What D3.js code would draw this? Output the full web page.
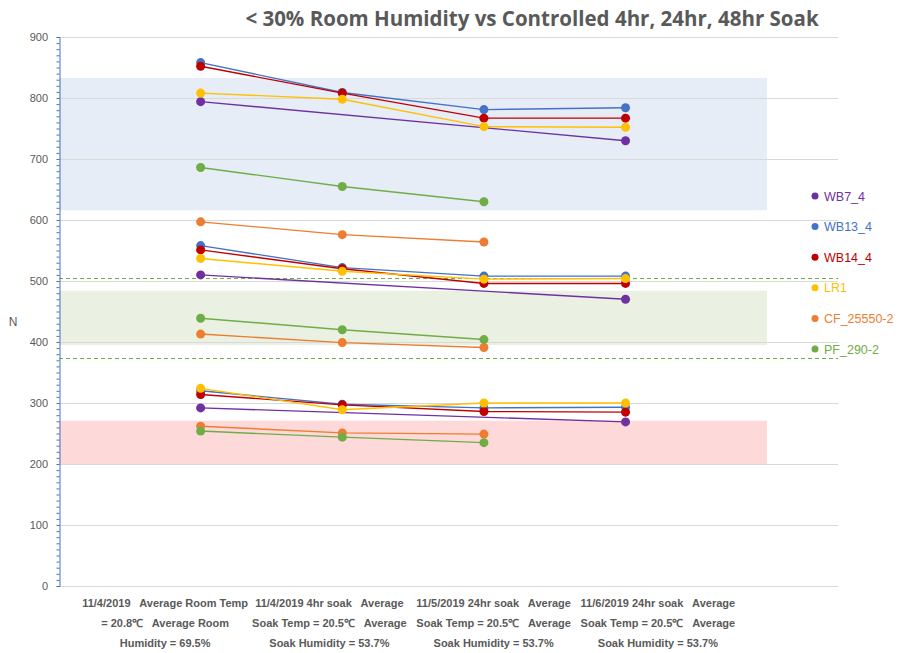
<!DOCTYPE html>
<html>
<head>
<meta charset="utf-8">
<script src="https://cdn.jsdelivr.net/npm/d3@7"></script>
<style>
  body { margin: 0; background: #fff; }
  svg { display: block; }
</style>
</head>
<body>
<svg id="chart" width="899" height="653"></svg>
<script>
// ---- data ----
const titleText = "< 30% Room Humidity vs Controlled 4hr, 24hr, 48hr Soak";

const categoryLabels = [
    ["11/4/2019   Average Room Temp", "= 20.8\u2103   Average Room", "Humidity = 69.5%"],
    ["11/4/2019 4hr soak   Average", "Soak Temp = 20.5\u2103   Average", "Soak Humidity = 53.7%"],
    ["11/5/2019 24hr soak   Average", "Soak Temp = 20.5\u2103   Average", "Soak Humidity = 53.7%"],
    ["11/6/2019 24hr soak   Average", "Soak Temp = 20.5\u2103   Average", "Soak Humidity = 53.7%"]
];

const yTicks = [0, 100, 200, 300, 400, 500, 600, 700, 800, 900];

// each material has three groups, one value per category (null = no reading)
const wb7_4 = [[794, null, null, 730], [510, null, null, 470], [292, null, null, 269]];
const wb13_4 = [[858, 809, 781, 784], [558, 522, 508, 508], [320, 298, 292, 293]];
const wb14_4 = [[852, 808, 767, 767], [551, 520, 496, 496], [314, 297, 286, 285]];
const lr1 = [[808, 798, 753, 752], [537, 516, 503, 504], [324, 289, 300, 300]];
const cf_25550_2 = [[597, 576, 564, null], [413, 399, 391, null], [262, 251, 249, null]];
const pf_290_2 = [[686, 655, 630, null], [439, 420, 404, null], [254, 244, 235, null]];

const seriesNames = ["WB7_4", "WB13_4", "WB14_4", "LR1", "CF_25550-2", "PF_290-2"];
const seriesColors = ["#7030a0", "#4472c4", "#c00000", "#ffc000", "#ed7d31", "#70ad47"];
const seriesGroups = [wb7_4, wb13_4, wb14_4, lr1, cf_25550_2, pf_290_2];

// shaded ranges and dashed limits
const blueBand = [616, 833];
const greenBand = [395, 484];
const redBand = [200, 271];
const greenLimits = [505, 373];

// ---- layout ----
const svg = d3.select("#chart");
const plotLeft = 59, plotRight = 838, plotTop = 37, plotBottom = 586;
const bandRight = 767;

const y = d3.scaleLinear().domain([0, 900]).range([plotBottom, plotTop]);
const x = d3.scaleLinear().domain([0, 5.5]).range([plotLeft, plotRight]);
const xLabel = d3.scaleBand().domain(d3.range(categoryLabels.length)).range([83, 740]);

const font = "'Liberation Sans', Arial, sans-serif";

// bands
function band(r, color) {
    svg.append("rect")
        .attr("x", plotLeft)
        .attr("y", y(r[1]))
        .attr("width", bandRight - plotLeft)
        .attr("height", y(r[0]) - y(r[1]))
        .attr("fill", color);
}
band(blueBand, "#e6edf7");
band(greenBand, "#eaf1e3");
band(redBand, "#fdd9d9");

// gridlines
svg.append("g")
    .selectAll("line")
    .data(yTicks)
    .join("line")
    .attr("x1", plotLeft)
    .attr("x2", plotRight)
    .attr("y1", d => Math.round(y(d)) + 0.5)
    .attr("y2", d => Math.round(y(d)) + 0.5)
    .attr("stroke", "#d9d9d9")
    .attr("stroke-width", 1);

// dashed limit lines
svg.append("g")
    .selectAll("line")
    .data(greenLimits)
    .join("line")
    .attr("x1", plotLeft)
    .attr("x2", plotRight)
    .attr("y1", d => Math.round(y(d)) + 0.5)
    .attr("y2", d => Math.round(y(d)) + 0.5)
    .attr("stroke", "#70ad47")
    .attr("stroke-width", 1)
    .attr("stroke-dasharray", "4,3");

// y axis with minor ticks
const yAxis = d3.axisLeft(y)
    .tickValues(d3.range(0, 901, 10))
    .tickSize(3)
    .tickFormat("");
const yAxisGroup = svg.append("g")
    .attr("transform", `translate(${plotLeft + 0.5},0)`)
    .call(yAxis);
yAxisGroup.select(".domain").attr("stroke", "#4472c4");
yAxisGroup.selectAll(".tick line").attr("stroke", "#4472c4");

svg.append("g")
    .selectAll("text")
    .data(yTicks)
    .join("text")
    .attr("x", 48)
    .attr("y", d => y(d) + 4)
    .attr("text-anchor", "end")
    .attr("font-family", font)
    .attr("font-size", 11)
    .attr("fill", "#595959")
    .text(d => d);

svg.append("text")
    .attr("x", 13)
    .attr("y", 326)
    .attr("text-anchor", "middle")
    .attr("font-family", font)
    .attr("font-size", 12)
    .attr("fill", "#595959")
    .text("N");

// x category labels
const xl = svg.append("g")
    .selectAll("text")
    .data(categoryLabels)
    .join("text")
    .attr("text-anchor", "middle")
    .attr("font-family", font)
    .attr("font-weight", "bold")
    .attr("font-size", 11)
    .attr("fill", "#595959")
    .style("white-space", "pre");
xl.selectAll("tspan")
    .data((d, i) => d.map(t => ({ t, i })))
    .join("tspan")
    .attr("x", d => xLabel(d.i) + xLabel.bandwidth() / 2)
    .attr("y", (d, j) => 607 + j * 20)
    .text(d => d.t);

// title
svg.append("text")
    .attr("x", 532)
    .attr("y", 26)
    .attr("text-anchor", "middle")
    .attr("font-family", "'Open Sans', sans-serif")
    .attr("font-weight", "bold")
    .attr("font-size", 20.5)
    .attr("fill", "#595959")
    .text(titleText);

// series
const line = d3.line()
    .x(d => x(d.i + 1))
    .y(d => y(d.v));

seriesGroups.forEach((groups, s) => {
    const g = svg.append("g").attr("class", "series");
    groups.forEach(vals => {
        const pts = vals.map((v, i) => ({ v, i })).filter(d => d.v !== null);
        g.append("path")
            .datum(pts)
            .attr("d", line)
            .attr("fill", "none")
            .attr("stroke", seriesColors[s])
            .attr("stroke-width", 1.4);
        g.selectAll(null)
            .data(pts)
            .join("circle")
            .attr("cx", d => x(d.i + 1))
            .attr("cy", d => y(d.v))
            .attr("r", 4.5)
            .attr("fill", seriesColors[s]);
    });
});

// legend
const legend = svg.append("g")
    .selectAll("g")
    .data(seriesNames)
    .join("g")
    .attr("transform", (d, i) => `translate(815, ${196 + i * 30.6})`);
legend.append("circle")
    .attr("r", 3.5)
    .attr("fill", (d, i) => seriesColors[i]);
legend.append("text")
    .attr("x", 9)
    .attr("y", 4.5)
    .attr("font-family", font)
    .attr("font-size", 12.5)
    .attr("fill", (d, i) => seriesColors[i])
    .text(d => d);
</script>
</body>
</html>
